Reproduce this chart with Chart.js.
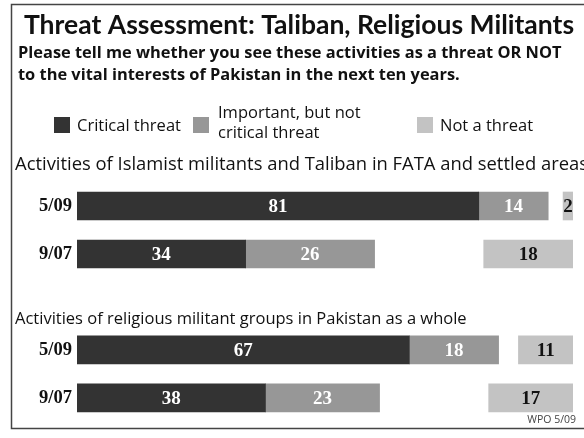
<!DOCTYPE html>
<html>
<head>
<meta charset="utf-8">
<script src="https://cdn.jsdelivr.net/npm/chart.js@4.4.0/dist/chart.umd.min.js"></script>
<style>
  html, body { margin: 0; padding: 0; background: #fff; }
  #wrap { width: 584px; height: 438px; position: relative; }
</style>
</head>
<body>
<div id="wrap"><canvas id="myChart"></canvas></div>
<script>
// rows: two surveys per question, blank row between the two questions
const ROWS = ['5/09', '9/07', '', '5/09', '9/07'];
const CRITICAL = [81, 34, null, 67, 38];
const IMPORTANT = [14, 26, null, 18, 23];
const NOT_THREAT = [2, 18, null, 11, 17];
const HEADINGS = [
    'Activities of Islamist militants and Taliban in FATA and settled areas',
    'Activities of religious militant groups in Pakistan as a whole'
];
const SERIES_NAMES = ['Critical threat', 'Important, but not\ncritical threat', 'Not a threat'];
const COLORS = ['#333333', '#979797', '#c3c3c3'];

const TITLE_FONT = 'Lato, "Open Sans", sans-serif';
const SANS = '"Open Sans", Lato, sans-serif';
const SERIF = '"Liberation Serif", "DejaVu Serif", serif';

// floating bars so the "not a threat" column sits against the right edge (100)
const critBars = CRITICAL.map(v => v == null ? null : [0, v]);
const impBars = IMPORTANT.map((v, i) => v == null ? null : [CRITICAL[i], CRITICAL[i] + v]);
const notBars = NOT_THREAT.map(v => v == null ? null : [100 - v, 100]);

var decorPlugin = {
    id: 'decor',
    afterDraw(chart) {
        const c = chart.ctx;
        const yScale = chart.scales.y;
        c.save();

        // frame
        c.strokeStyle = '#444';
        c.lineWidth = 1.5;
        c.beginPath();
        c.moveTo(584, 4.5);
        c.lineTo(11.5, 4.5);
        c.lineTo(11.5, 428.5);
        c.lineTo(584, 428.5);
        c.stroke();

        c.fillStyle = '#111';
        c.textBaseline = 'alphabetic';

        // title
        c.font = 'bold 26.5px ' + TITLE_FONT;
        c.textAlign = 'center';
        c.fillText('Threat Assessment: Taliban, Religious Militants', 299, 34);

        // question
        c.font = 'bold 16.4px ' + SANS;
        c.textAlign = 'left';
        c.fillText('Please tell me whether you see these activities as a threat OR NOT', 18, 58);
        c.fillText('to the vital interests of Pakistan in the next ten years.', 18, 80);

        // legend
        const legendX = [54, 193, 417];
        c.font = '16.5px ' + SANS;
        SERIES_NAMES.forEach((name, i) => {
            c.fillStyle = COLORS[i];
            c.fillRect(legendX[i], 117, 16, 16);
            c.fillStyle = '#111';
            const lines = name.split('\n');
            if (lines.length === 1) {
                c.fillText(lines[0], legendX[i] + 23, 131);
            } else {
                c.fillText(lines[0], legendX[i] + 25, 118);
                c.fillText(lines[1], legendX[i] + 25, 138);
            }
        });

        // question headings above each group of bars
        c.font = '18.4px ' + SANS;
        c.fillText(HEADINGS[0], 15, yScale.getPixelForValue(0) - 36);
        c.font = '16.5px ' + SANS;
        c.fillText(HEADINGS[1], 15, yScale.getPixelForValue(3) - 26);

        // value labels inside the bars
        c.font = 'bold 19px ' + SERIF;
        c.textAlign = 'center';
        c.textBaseline = 'middle';
        const values = [CRITICAL, IMPORTANT, NOT_THREAT];
        chart.data.datasets.forEach((ds, di) => {
            const meta = chart.getDatasetMeta(di);
            meta.data.forEach((bar, j) => {
                if (values[di][j] == null) return;
                const cx = (bar.x + bar.base) / 2;
                c.fillStyle = di === 2 ? '#111' : '#fff';
                c.fillText(String(values[di][j]), cx, bar.y + 1);
            });
        });

        // source
        c.font = '10.5px ' + SANS;
        c.fillStyle = '#444';
        c.textAlign = 'right';
        c.textBaseline = 'alphabetic';
        c.fillText('WPO 5/09', 576, 423);

        c.restore();
    }
};

var ctx = document.getElementById('myChart').getContext('2d');
var myChart = new Chart(ctx, {
    type: 'bar',
    data: {
        labels: ROWS,
        datasets: [
            { label: 'Critical threat', data: critBars, backgroundColor: COLORS[0] },
            { label: 'Important, but not critical threat', data: impBars, backgroundColor: COLORS[1] },
            { label: 'Not a threat', data: notBars, backgroundColor: COLORS[2] }
        ]
    },
    options: {
        indexAxis: 'y',
        responsive: true,
        maintainAspectRatio: false,
        animation: false,
        datasets: {
            bar: {
                grouped: false,
                barThickness: 28,
                borderSkipped: false
            }
        },
        layout: {
            padding: { top: 182, right: 11, bottom: 14, left: 0 }
        },
        plugins: {
            legend: { display: false },
            tooltip: { enabled: false }
        },
        scales: {
            x: {
                display: false,
                min: 0,
                max: 100
            },
            y: {
                grid: { display: false, drawTicks: false },
                border: { display: false },
                ticks: {
                    padding: 5,
                    color: '#111',
                    font: { family: SERIF, size: 18.5, weight: 'bold' }
                },
                afterFit(scale) {
                    scale.width = 77;
                }
            }
        }
    },
    plugins: [decorPlugin]
});
</script>
</body>
</html>
